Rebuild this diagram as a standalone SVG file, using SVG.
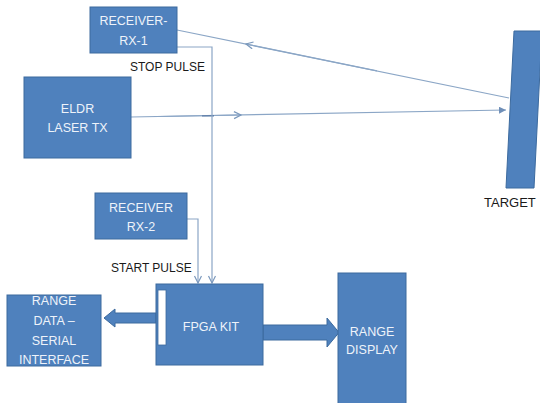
<svg xmlns="http://www.w3.org/2000/svg" width="540" height="403" viewBox="0 0 540 403">
<defs>
<style>
.box{fill:#4F81BD;stroke:#3C6A9E;stroke-width:1}
.lbl{font-family:"Liberation Sans",Arial,sans-serif;font-size:12.5px;fill:#EEF3FA;text-anchor:middle}
.txt{font-family:"Liberation Sans",Arial,sans-serif;font-size:12px;fill:#1a1a1a}
.ln{fill:none;stroke:#8BA6C6;stroke-width:1.2}
.blk{fill:#4F81BD;stroke:#3C6A9E;stroke-width:1}
</style>
<marker id="ah" markerWidth="10" markerHeight="10" refX="8" refY="4" orient="auto" markerUnits="userSpaceOnUse">
<path d="M1,0.5 L8,4 L1,7.5" fill="none" stroke="#7A98BC" stroke-width="1.2"/>
</marker>
<marker id="ahf" markerWidth="10" markerHeight="10" refX="7" refY="3.5" orient="auto" markerUnits="userSpaceOnUse">
<path d="M0,0 L7,3.5 L0,7 Z" fill="#6F8FB8"/>
</marker>
</defs>
<rect width="540" height="403" fill="#ffffff"/>

<g id="connectors">
<line class="ln" x1="509" y1="98" x2="177" y2="30"/>
<line class="ln" x1="377" y1="70.9" x2="246" y2="44" marker-end="url(#ah)"/>
<line class="ln" x1="131" y1="117" x2="506" y2="110" marker-end="url(#ahf)"/>
<line class="ln" x1="160" y1="116.5" x2="241" y2="115" marker-end="url(#ah)"/>
<line x1="202" y1="115.9" x2="214" y2="115.7" stroke="#5F7EA8" stroke-width="1.4"/>
<polyline class="ln" points="177,47 212,47 212,283" marker-end="url(#ah)"/>
<polyline class="ln" points="187,219 198,219 198,283" marker-end="url(#ah)"/>
<polygon class="blk" points="156,313 115,313 115,309 104,318 115,327 115,323 156,323"/>
<polygon class="blk" points="263,325 327,325 327,318 339,332.5 327,347 327,340 263,340"/>
</g>

<g id="rx1">
<rect class="box" x="90" y="7" width="87" height="46"/>
<text class="lbl" x="133.5" y="25">RECEIVER-</text>
<text class="lbl" x="133.5" y="45">RX-1</text>
</g>

<g id="stop-label">
<text class="txt" x="130" y="71">STOP PULSE</text>
</g>

<g id="eldr">
<rect class="box" x="24" y="77" width="107" height="81"/>
<text class="lbl" x="77.5" y="113">ELDR</text>
<text class="lbl" x="77.5" y="132">LASER TX</text>
</g>

<g id="target">
<polygon class="box" points="514,31 542,31 534,188 506,188"/>
<text class="txt" x="484" y="207" style="font-size:13px">TARGET</text>
</g>

<g id="rx2">
<rect class="box" x="95" y="193" width="92" height="46"/>
<text class="lbl" x="141" y="212">RECEIVER</text>
<text class="lbl" x="141" y="231">RX-2</text>
</g>

<g id="start-label">
<text class="txt" x="111" y="272">START PULSE</text>
</g>

<g id="fpga">
<rect class="box" x="156" y="284" width="107" height="81"/>
<rect x="158" y="290" width="8" height="55" fill="#ffffff" stroke="#3C6A9E" stroke-width="0.8"/>
<text class="lbl" x="211" y="331">FPGA KIT</text>
</g>

<g id="range-data">
<rect class="box" x="7" y="295" width="94" height="71"/>
<text class="lbl" x="54" y="305">RANGE</text>
<text class="lbl" x="54" y="325">DATA –</text>
<text class="lbl" x="54" y="345">SERIAL</text>
<text class="lbl" x="54" y="364">INTERFACE</text>
</g>

<g id="range-display">
<rect class="box" x="338" y="273" width="68" height="140"/>
<text class="lbl" x="372" y="336">RANGE</text>
<text class="lbl" x="372" y="354">DISPLAY</text>
</g>
</svg>
